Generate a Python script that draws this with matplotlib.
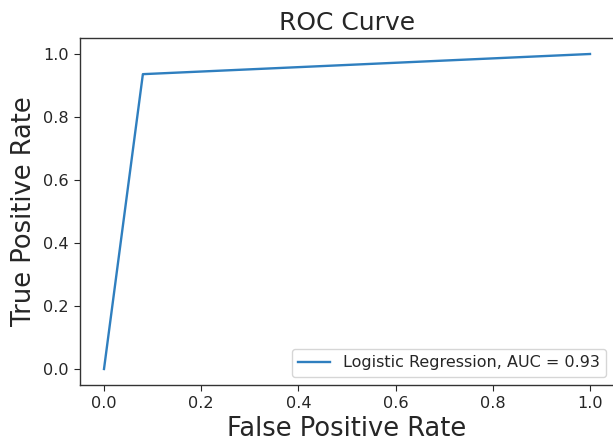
import matplotlib
matplotlib.use("Agg")
import matplotlib.pyplot as plt

fpr = [0.0, 0.08, 1.0]
tpr = [0.0, 0.936, 1.0]
label = "Logistic Regression, AUC = 0.93"

plt.rcParams.update({
    "text.color": "#262626",
    "axes.labelcolor": "#262626",
    "xtick.color": "#262626",
    "ytick.color": "#262626",
    "axes.edgecolor": "#333333",
    "xtick.labelsize": 11.6,
    "ytick.labelsize": 11.6,
    "xtick.major.size": 4.5,
    "ytick.major.size": 4.5,
    "axes.linewidth": 1.0,
})

fig = plt.figure(figsize=(6.13, 4.48), dpi=100)
W, H = 613, 448
l, r, t, b = 79.7, 614.3, 38.25, 384.75
ax = fig.add_axes([l / W, 1 - b / H, (r - l) / W, (b - t) / H])
ax.plot(fpr, tpr, label=label, color="#2f7fbf", lw=1.7)
ax.set_title("ROC Curve", fontsize=18)
ax.set_xlabel("False Positive Rate", fontsize=18.5)
ax.set_ylabel("True Positive Rate", fontsize=18.5)
ax.legend(loc="lower right", fontsize=11.5)
fig.savefig("out.png", dpi=100)
